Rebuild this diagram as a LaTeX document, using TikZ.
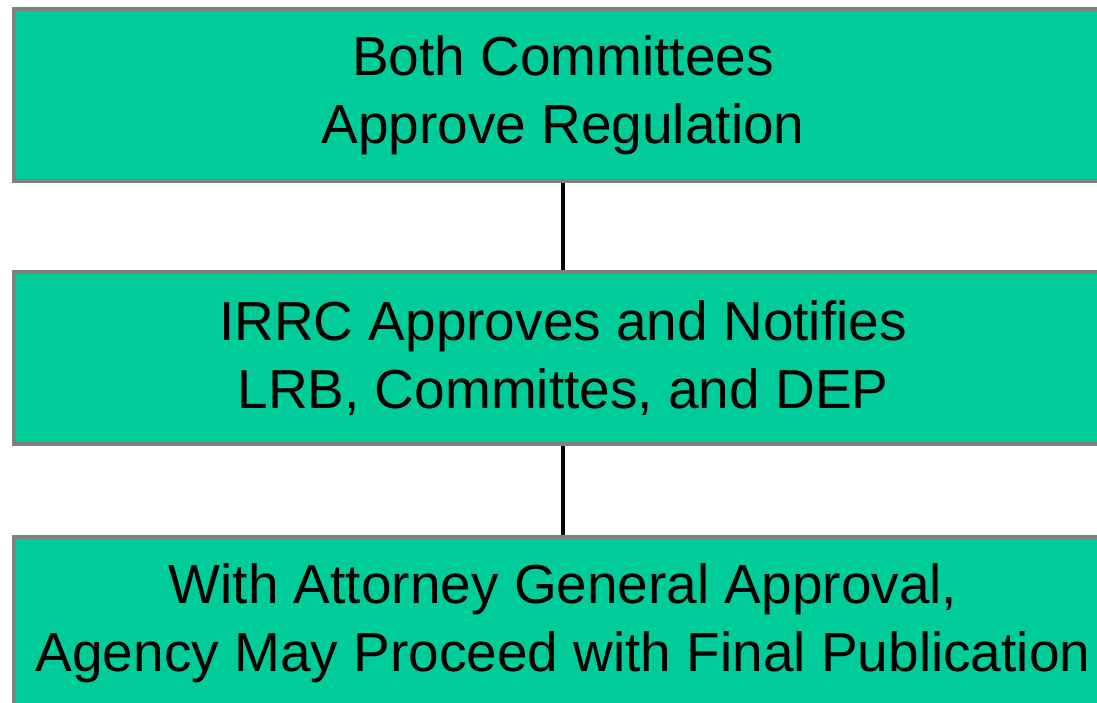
\documentclass[tikz,border=0pt]{standalone}
\usepackage{fontspec}
\setmainfont{Liberation Sans}
\definecolor{boxgreen}{HTML}{00CC99}
\definecolor{boxedge}{HTML}{808080}
\begin{document}
\begin{tikzpicture}[x=1pt,y=-1pt,
  stage/.style={draw=boxedge, line width=4pt, fill=boxgreen, rectangle,
    minimum width=1098pt, minimum height=172pt, inner sep=0pt,
    align=center, font=\fontsize{55}{68}\selectfont},
  link/.style={draw=black, line width=4pt}]
\useasboundingbox (0,0) rectangle (1097,703);
\node[stage] (approve) at (563,95) {Both Committees\\Approve Regulation};
\node[stage] (irrc) at (563,358) {IRRC Approves and Notifies\\LRB, Committes, and DEP};
\node[stage] (final) at (563,623) {With Attorney General Approval,\\Agency May Proceed with Final Publication};
\draw[link] (approve.south) -- (irrc.north);
\draw[link] (irrc.south) -- (final.north);
\end{tikzpicture}
\end{document}
